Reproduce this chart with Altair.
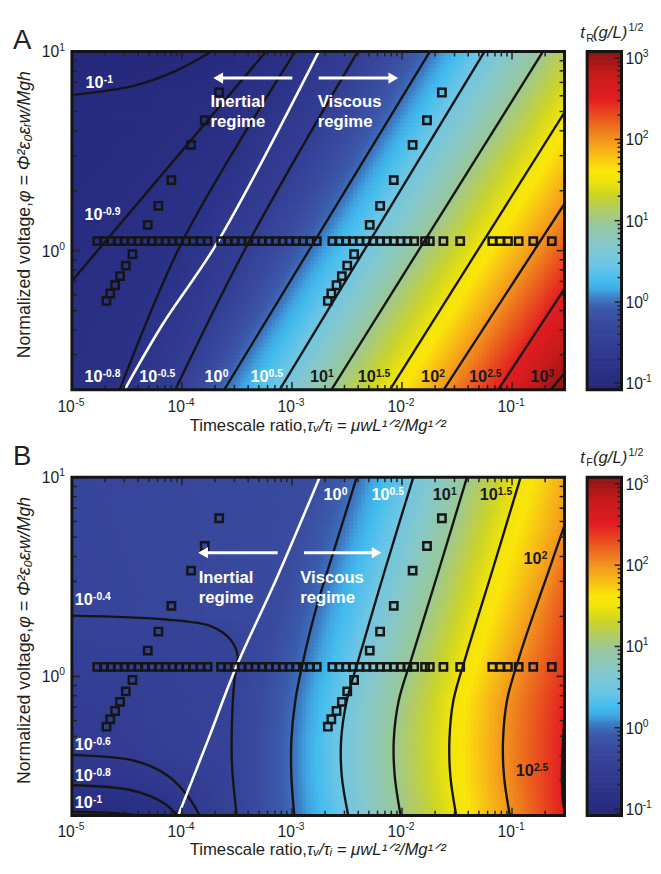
import numpy as np
import pandas as pd
import altair as alt

alt.data_transformers.disable_max_rows()

FONT = "Liberation Sans"
TXT = "#231f20"

# ---------------- axes / domains ----------------
X_DOMAIN = [1e-5, 0.3]
Y_DOMAIN = [0.2, 10.0]
X_MAJOR = [1e-5, 1e-4, 1e-3, 1e-2, 1e-1]
X_MAJOR_EXP = ["-5", "-4", "-3", "-2", "-1"]
X_MINOR = [m * 10.0 ** d for d in range(-5, 0) for m in range(2, 10) if m * 10.0 ** d <= 0.3]
Y_MAJOR = [1.0, 10.0]
Y_MAJOR_EXP = ["0", "1"]
Y_MINOR = [0.3, 0.4, 0.5, 0.6, 0.7, 0.8, 0.9, 2, 3, 4, 5, 6, 7, 8, 9]
CB_LOG_DOMAIN = [-1.08, 3.08]
CB_MAJOR = [0.1, 1, 10, 100, 1000]
CB_MAJOR_EXP = ["-1", "0", "1", "2", "3"]
CB_MINOR = [0.09] + [m * 10.0 ** d for d in range(-1, 3) for m in range(2, 10)]

# ---------------- colour map (log10 value -> colour) ----------------
CMAP_V = [-1.08, -0.8, -0.5, -0.25, -0.08, 0.05, 0.15, 0.25, 0.45, 0.7, 0.95,
          1.15, 1.3, 1.5, 1.62, 1.8, 2.0, 2.25, 2.5, 2.8, 3.08]
CMAP_C = ["#26287a", "#2c3388", "#343f94", "#3a4b9f", "#3c5aab", "#3e7cc4", "#40a6e2",
          "#43bcee", "#6cc6e6", "#86c8cc", "#97c8a0", "#b4cd62", "#cad42a", "#f2e40a",
          "#fbe60a", "#f8c016", "#f3951f", "#ea5a1f", "#e31e22", "#c81b1c", "#8c1515"]

# ---------------- panel A : contour lines (level, x list, y list) ----------------
A_CONTOURS = [
    (-1.0, [1.0e-5, 3.62e-5, 8.70e-5, 1.85e-4], [6.05, 6.72, 7.97, 10.0]),
    (-0.9, [1.0e-5, 5.81e-4], [0.704, 10.0]),
    (-0.8, [2.72e-5, 1.004e-4, 1.07e-3], [0.2, 1.107, 10.0]),
    (-0.5, [8.70e-5, 4.02e-4, 3.96e-3], [0.2, 1.095, 10.0]),
    (0.0, [2.42e-4, 1.79e-2], [0.2, 10.0]),
    (0.5, [7.73e-4, 5.62e-2], [0.2, 10.0]),
    (1.0, [2.28e-3, 0.191], [0.2, 10.0]),
    (1.5, [7.76e-3, 0.3], [0.2, 4.95]),
    (2.0, [2.39e-2, 0.3], [0.2, 1.72]),
    (2.5, [7.48e-2, 0.3], [0.2, 0.643]),
    (3.0, [0.2253, 0.3], [0.2, 0.242]),
]
A_WHITE_X = [3.01e-5, 6.68e-5, 2.09e-4, 1.75e-3]
A_WHITE_Y = [0.2, 0.427, 1.095, 10.0]
A_GUIDES = []
A_LEFT_Y = [0.2, 0.704, 6.05, 10.0]
A_LEFT_V = [-0.86, -0.9, -1.0, -1.06]
A_RIGHT_Y = [0.2, 0.242, 0.643, 1.72, 4.95, 10.0]
A_RIGHT_V = [3.06, 3.0, 2.5, 2.0, 1.5, 1.2]

# ---------------- panel B ----------------
B_Y7 = [10.0, 3.523, 1.269, 0.753, 0.4784, 0.3145, 0.2]
B_CONTOURS = [
    (-1.0, [1.0e-5, 2.08e-5, 4.09e-5], [0.209, 0.2066, 0.2]),
    (-0.8, [1.0e-5, 3.47e-5, 6.81e-5, 9.07e-5], [0.284, 0.268, 0.2315, 0.2]),
    (-0.6, [1.0e-5, 3.69e-5, 7.39e-5, 1.11e-4, 1.45e-4], [0.4036, 0.377, 0.318, 0.2535, 0.2]),
    (-0.4, [1.0e-5, 7.10e-5, 1.85e-4, 2.79e-4, 3.21e-4, 3.02e-4, 2.90e-4, 2.84e-4, 3.15e-4],
     [2.02, 1.93, 1.783, 1.521, 1.269, 0.989, 0.745, 0.377, 0.2]),
    (0.0, [3.879e-3, 2.527e-3, 1.645e-3, 1.237e-3, 1.072e-3, 9.878e-4, 9.878e-4, 1.050e-3],
     [10.0, 4.677, 2.163, 1.133, 0.753, 0.4784, 0.3145, 0.2]),
    (0.5, [1.267e-2, 7.11e-3, 4.12e-3, 3.143e-3, 2.797e-3, 2.838e-3, 3.247e-3], B_Y7),
    (1.0, [3.894e-2, 2.199e-2, 1.242e-2, 9.33e-3, 8.42e-3, 8.60e-3, 9.72e-3], B_Y7),
    (1.5, [0.1197, 6.757e-2, 3.816e-2, 2.926e-2, 2.697e-2, 2.753e-2, 3.111e-2], B_Y7),
    (2.0, [0.3, 0.2208, 0.1172, 8.99e-2, 8.29e-2, 8.46e-2, 9.56e-2],
     [5.74, 3.523, 1.269, 0.753, 0.4784, 0.3145, 0.2]),
    (2.5, [0.3, 0.29, 0.284, 0.29, 0.3], [0.643, 0.45, 0.33, 0.24, 0.209]),
]
B_WHITE_X = [9.25e-5, 1.71e-4, 3.15e-4, 7.13e-4, 1.786e-3]
B_WHITE_Y = [0.2, 0.473, 1.133, 3.04, 10.0]
# shading guide read from the colour (where the blue starts to brighten), not drawn
B_GUIDES = [(-0.25, [1.456e-3, 1.008e-3, 7.42e-4, 5.69e-4, 5.04e-4, 4.64e-4, 4.64e-4, 4.93e-4],
             [10.0, 4.677, 2.163, 1.133, 0.753, 0.4784, 0.3145, 0.2])]
B_LEFT_Y = [0.2, 0.209, 0.284, 0.4036, 2.02, 10.0]
B_LEFT_V = [-1.02, -1.0, -0.8, -0.6, -0.4, -0.36]
B_RIGHT_Y = [0.2, 0.209, 0.33, 0.643, 1.05, 2.59, 5.74, 10.0]
B_RIGHT_V = [2.49, 2.5, 2.53, 2.5, 2.42, 2.25, 2.0, 1.9]

# ---------------- experimental squares (same in both panels) ----------------
SQ_DIAG_Y = [6.23, 4.52, 3.40, 2.26, 1.680, 1.348, 0.959, 0.841, 0.745, 0.670, 0.609, 0.559]
SQ_DIAG1_X = [2.18e-4, 1.61e-4, 1.21e-4, 8.02e-5, 6.11e-5, 4.89e-5, 3.55e-5, 3.09e-5,
              2.74e-5, 2.47e-5, 2.23e-5, 2.06e-5]
SQ_DIAG2_X = [0.02305, 0.01687, 0.01249, 8.42e-3, 6.33e-3, 5.09e-3, 3.67e-3, 3.18e-3,
              2.84e-3, 2.54e-3, 2.28e-3, 2.12e-3]
SQ_ROW_Y = 1.116
SQ_ROW_X = [1.70e-5, 1.96e-5, 2.26e-5, 2.61e-5, 3.01e-5, 3.47e-5, 4.01e-5, 4.62e-5, 5.33e-5,
            6.15e-5, 7.10e-5, 8.19e-5, 9.45e-5, 1.09e-4, 1.26e-4, 1.48e-4, 1.71e-4,
            2.27e-4, 2.62e-4, 3.02e-4, 3.49e-4, 4.02e-4, 4.64e-4, 5.36e-4, 6.18e-4, 7.13e-4,
            8.22e-4, 9.48e-4, 1.09e-3, 1.26e-3, 1.46e-3, 1.68e-3,
            2.33e-3, 2.69e-3, 3.10e-3, 3.57e-3, 4.12e-3, 4.75e-3, 5.49e-3, 6.33e-3, 7.30e-3,
            8.42e-3, 9.72e-3, 1.12e-2, 1.29e-2, 1.62e-2, 1.79e-2, 2.38e-2, 3.38e-2,
            6.62e-2, 7.79e-2, 9.18e-2, 0.115, 0.156, 0.230]

# ---------------- contour labels ----------------
A_LBL_EXP = ["-1", "-0.9", "-0.8", "-0.5", "0", "0.5", "1", "1.5", "2", "2.5", "3"]
A_LBL_X = [1.33e-5, 1.30e-5, 1.30e-5, 4.09e-5, 1.605e-4, 4.19e-4, 1.456e-3, 3.96e-3, 1.492e-2, 4.06e-2, 0.1468]
A_LBL_Y = [6.57, 1.421, 0.2187, 0.2187, 0.2187, 0.2187, 0.2187, 0.2187, 0.2187, 0.2187, 0.2187]
A_LBL_DARK = [False, False, False, False, False, False, True, True, True, True, True]
B_LBL_EXP = ["-0.4", "-0.6", "-0.8", "-1", "0", "0.5", "1", "1.5", "2", "2.5"]
B_LBL_X = [1.063e-5, 1.063e-5, 1.063e-5, 1.063e-5, 1.937e-3, 5.27e-3, 1.905e-2, 5.08e-2, 0.1272, 0.108]
B_LBL_Y = [2.288, 0.427, 0.297, 0.2187, 7.70, 7.70, 7.70, 7.70, 3.686, 0.3145]
B_LBL_DARK = [False, False, False, False, False, False, True, True, True, True]

# ---------------- regime annotations ----------------
A_ARROW_Y = 7.36
A_ARROW_L = [1.008e-3, 2.137e-4]
A_ARROW_R = [1.749e-3, 8.34e-3]
A_TXT_X = [1.815e-4, 1.815e-4, 1.714e-3, 1.714e-3]
A_TXT_Y = [5.24, 4.18, 5.24, 4.18]
B_ARROW_Y = 4.18
B_ARROW_L = [7.42e-4, 1.557e-4]
B_ARROW_R = [1.288e-3, 5.89e-3]
B_TXT_X = [1.42e-4, 1.42e-4, 1.187e-3, 1.187e-3]
B_TXT_Y = [2.94, 2.342, 2.94, 2.342]
REGIME_TXT = ["Inertial", "regime", "Viscous", "regime"]

W, H = 501, 344
CBW = 35

XS = alt.Scale(type="log", domain=X_DOMAIN, nice=False)
YS = alt.Scale(type="log", domain=Y_DOMAIN, nice=False)
CMAP = alt.Scale(domain=CMAP_V, range=CMAP_C, clamp=True, interpolate="rgb")


def field_frame(contours, guides, left_y, left_v, right_y, right_v, nx=126, ny=86):
    lx0, lx1 = np.log10(X_DOMAIN)
    ly0, ly1 = np.log10(Y_DOMAIN)
    ex = np.linspace(lx0, lx1, nx + 1)
    ey = np.linspace(ly0, ly1, ny + 1)
    dx, dy = ex[1] - ex[0], ey[1] - ey[0]
    cx = (ex[:-1] + ex[1:]) / 2
    cy = (ey[:-1] + ey[1:]) / 2
    lines = [(lev, np.log10(a), np.log10(b)) for lev, a, b in list(contours) + list(guides)]
    lly, lry = np.log10(left_y), np.log10(right_y)
    rec = {"x": [], "x2": [], "y": [], "y2": [], "v": []}
    for j, yc in enumerate(cy):
        pts = []
        for lev, lxs, lys in lines:
            for k in range(len(lxs) - 1):
                ya, yb = lys[k], lys[k + 1]
                if ya == yb:
                    continue
                if min(ya, yb) <= yc <= max(ya, yb):
                    t = (yc - ya) / (yb - ya)
                    pts.append((lxs[k] + t * (lxs[k + 1] - lxs[k]), lev))
        pts.append((lx0, float(np.interp(yc, lly, left_v))))
        pts.append((lx1, float(np.interp(yc, lry, right_v))))
        pts.sort()
        vals = np.interp(cx, [p[0] for p in pts], [p[1] for p in pts])
        for i in range(nx):
            rec["x"].append(float("%.5g" % 10 ** ex[i]))
            rec["x2"].append(float("%.5g" % 10 ** (ex[i + 1] + 0.25 * dx)))
            rec["y"].append(float("%.5g" % 10 ** ey[j]))
            rec["y2"].append(float("%.5g" % 10 ** (ey[j + 1] + 0.25 * dy)))
            rec["v"].append(round(float(vals[i]), 3))
    return pd.DataFrame(rec)


def ptext(text, x, y, size, style="normal", weight="normal", align="left", angle=0, color=TXT):
    kw = dict(align=align, baseline="alphabetic", font=FONT, fontSize=size,
              fontStyle=style, fontWeight=weight, color=color)
    if angle:
        kw["angle"] = angle
    return alt.Chart(pd.DataFrame({"t": [text]})).mark_text(**kw).encode(
        x=alt.value(x), y=alt.value(y), text="t:N")


def border(w, h):
    return alt.Chart(pd.DataFrame({"a": [0]})).mark_rect(
        filled=False, stroke="#151515", strokeWidth=3, fillOpacity=0).encode(
        x=alt.value(0), x2=alt.value(w), y=alt.value(0), y2=alt.value(h))


def anchor(x0):
    # white-on-white hairline fixing the top / left extent of a view
    return alt.Chart(pd.DataFrame({"a": [0]})).mark_rule(color="white", strokeWidth=1).encode(
        x=alt.value(x0), x2=alt.value(x0 + 1), y=alt.value(-36), y2=alt.value(-36))


def tick_layers():
    out = []
    for vals, L in ((X_MAJOR, 8), (X_MINOR, 5)):
        base = alt.Chart(pd.DataFrame({"v": vals})).mark_rule(color=TXT, strokeWidth=1.5)
        out.append(base.encode(x=alt.X("v:Q", scale=XS, axis=None), y=alt.value(H), y2=alt.value(H - L)))
        out.append(base.encode(x=alt.X("v:Q", scale=XS, axis=None), y=alt.value(0), y2=alt.value(L)))
    for vals, L in ((Y_MAJOR, 8), (Y_MINOR, 5)):
        base = alt.Chart(pd.DataFrame({"v": vals})).mark_rule(color=TXT, strokeWidth=1.5)
        out.append(base.encode(y=alt.Y("v:Q", scale=YS, axis=None), x=alt.value(0), x2=alt.value(L)))
        out.append(base.encode(y=alt.Y("v:Q", scale=YS, axis=None), x=alt.value(W), x2=alt.value(W - L)))
    return out


def axis_labels(label_dy):
    xd = pd.DataFrame({"v": X_MAJOR, "e": X_MAJOR_EXP, "b": ["10"] * len(X_MAJOR)})
    xb = alt.Chart(xd).encode(x=alt.X("v:Q", scale=XS, axis=None), y=alt.value(H + label_dy))
    yd = pd.DataFrame({"v": Y_MAJOR, "e": Y_MAJOR_EXP, "b": ["10"] * len(Y_MAJOR)})
    yb = alt.Chart(yd).encode(y=alt.Y("v:Q", scale=YS, axis=None))
    common = dict(baseline="alphabetic", font=FONT, color=TXT)
    return [
        xb.mark_text(align="right", fontSize=16, dx=3, **common).encode(text="b:N"),
        xb.mark_text(align="left", fontSize=10.5, dx=3.5, dy=-7, **common).encode(text="e:N"),
        yb.mark_text(align="right", fontSize=16, dy=6, **common).encode(x=alt.value(-13), text="b:N"),
        yb.mark_text(align="left", fontSize=10.5, dy=-1, **common).encode(x=alt.value(-13), text="e:N"),
    ]


def panel(contours, guides, white_x, white_y, left_y, left_v, right_y, right_v,
          lbl_exp, lbl_x, lbl_y, lbl_dark, arrow_y, arrow_l, arrow_r, txt_x, txt_y,
          letter, letter_y, label_dy, xtitle_dy):
    heat_df = field_frame(contours, guides, left_y, left_v, right_y, right_v)
    heat = alt.Chart(heat_df).mark_rect(clip=True, strokeWidth=0.6).encode(
        x=alt.X("x:Q", scale=XS, axis=None), x2="x2:Q",
        y=alt.Y("y:Q", scale=YS, axis=None), y2="y2:Q",
        color=alt.Color("v:Q", scale=CMAP, legend=None),
        stroke=alt.Stroke("v:Q", scale=CMAP, legend=None))

    crow = {"cid": [], "idx": [], "x": [], "y": []}
    for c, (lev, xs_, ys_) in enumerate(contours):
        for k, (a, b) in enumerate(zip(xs_, ys_)):
            crow["cid"].append(c)
            crow["idx"].append(k)
            crow["x"].append(a)
            crow["y"].append(b)
    cont = alt.Chart(pd.DataFrame(crow)).mark_line(
        clip=True, color="#151515", strokeWidth=2.4, interpolate="catmull-rom").encode(
        x=alt.X("x:Q", scale=XS, axis=None), y=alt.Y("y:Q", scale=YS, axis=None),
        detail="cid:N", order="idx:Q")
    white = alt.Chart(pd.DataFrame({"x": white_x, "y": white_y, "i": list(range(len(white_x)))})).mark_line(
        clip=True, color="white", strokeWidth=2.6, interpolate="catmull-rom").encode(
        x=alt.X("x:Q", scale=XS, axis=None), y=alt.Y("y:Q", scale=YS, axis=None), order="i:Q")

    sq_x = SQ_DIAG1_X + SQ_DIAG2_X + SQ_ROW_X
    sq_y = SQ_DIAG_Y + SQ_DIAG_Y + [SQ_ROW_Y] * len(SQ_ROW_X)
    squares = alt.Chart(pd.DataFrame({"x": sq_x, "y": sq_y})).mark_point(
        shape="square", filled=False, size=56, strokeWidth=2.5, color="#151515", opacity=1).encode(
        x=alt.X("x:Q", scale=XS, axis=None), y=alt.Y("y:Q", scale=YS, axis=None))

    arr_df = pd.DataFrame({"a": [0, 0, 1, 1], "x": arrow_l + arrow_r, "y": [arrow_y] * 4, "i": [0, 1, 0, 1]})
    arrows = alt.Chart(arr_df).mark_line(color="white", strokeWidth=3).encode(
        x=alt.X("x:Q", scale=XS, axis=None), y=alt.Y("y:Q", scale=YS, axis=None), detail="a:N", order="i:Q")
    heads = alt.Chart(pd.DataFrame({"x": [arrow_l[1], arrow_r[1]], "y": [arrow_y] * 2,
                                    "s": ["triangle-left", "triangle-right"]})).mark_point(
        filled=True, size=130, color="white", opacity=1, strokeWidth=0).encode(
        x=alt.X("x:Q", scale=XS, axis=None), y=alt.Y("y:Q", scale=YS, axis=None),
        shape=alt.Shape("s:N", scale=None))
    regime = alt.Chart(pd.DataFrame({"t": REGIME_TXT, "x": txt_x, "y": txt_y})).mark_text(
        align="left", baseline="alphabetic", font=FONT, fontSize=17, fontWeight="bold", color="white").encode(
        x=alt.X("x:Q", scale=XS, axis=None), y=alt.Y("y:Q", scale=YS, axis=None), text="t:N")

    ldf = pd.DataFrame({"e": lbl_exp, "b": ["10"] * len(lbl_exp), "x": lbl_x, "y": lbl_y,
                        "c": ["#1a1a1a" if d else "#ffffff" for d in lbl_dark]})
    lbase = alt.Chart(ldf).encode(x=alt.X("x:Q", scale=XS, axis=None), y=alt.Y("y:Q", scale=YS, axis=None),
                                  color=alt.Color("c:N", scale=None))
    lb1 = lbase.mark_text(align="left", baseline="alphabetic", font=FONT, fontSize=16.5,
                          fontWeight="bold").encode(text="b:N")
    lb2 = lbase.mark_text(align="left", baseline="alphabetic", font=FONT, fontSize=10.5, fontWeight="bold",
                          dx=18.5, dy=-5).encode(text="e:N")

    titles = [
        ptext(letter, -60, letter_y, 28),
        ptext("Timescale ratio,\u00a0", 239, H + xtitle_dy, 17, align="right"),
        ptext("τᵥ/τᵢ = μwL¹ᐟ²/Mg¹ᐟ²", 239, H + xtitle_dy, 17, style="italic"),
        ptext("Normalized voltage,\u00a0", -43, 153, 18, align="right", angle=270),
        ptext("φ = Φ²ε₀εᵣw/Mgh", -43, 153, 18, style="italic", angle=270),
    ]
    layers = ([anchor(-64), heat, cont, white, squares, arrows, heads, regime, lb1, lb2] + tick_layers()
              + [border(W, H)] + axis_labels(label_dy) + titles)
    return alt.layer(*layers).properties(width=W, height=H)


def colorbar(sub, title_y):
    e = np.linspace(CB_LOG_DOMAIN[0], CB_LOG_DOMAIN[1], 201)
    de = e[1] - e[0]
    cdf = pd.DataFrame({"y": 10 ** e[:-1], "y2": 10 ** (e[1:] + 0.3 * de), "v": (e[:-1] + e[1:]) / 2})
    cbs = alt.Scale(type="log", domain=[10 ** CB_LOG_DOMAIN[0], 10 ** CB_LOG_DOMAIN[1]], nice=False)
    bar = alt.Chart(cdf).mark_rect(clip=True, strokeWidth=0.6).encode(
        x=alt.value(0), x2=alt.value(CBW),
        y=alt.Y("y:Q", scale=cbs, axis=None), y2="y2:Q",
        color=alt.Color("v:Q", scale=CMAP, legend=None),
        stroke=alt.Stroke("v:Q", scale=CMAP, legend=None))
    tk = []
    for vals, L in ((CB_MAJOR, 7), (CB_MINOR, 4)):
        tk.append(alt.Chart(pd.DataFrame({"v": vals})).mark_rule(color=TXT, strokeWidth=1.5).encode(
            y=alt.Y("v:Q", scale=cbs, axis=None), x=alt.value(CBW), x2=alt.value(CBW - L)))
    ld = pd.DataFrame({"v": CB_MAJOR, "e": CB_MAJOR_EXP, "b": ["10"] * len(CB_MAJOR)})
    lb = alt.Chart(ld).encode(y=alt.Y("v:Q", scale=cbs, axis=None))
    common = dict(baseline="alphabetic", font=FONT, color=TXT, align="left")
    labels = [
        lb.mark_text(fontSize=16, dy=6, **common).encode(x=alt.value(CBW + 4), text="b:N"),
        lb.mark_text(fontSize=10.5, dy=-1, **common).encode(x=alt.value(CBW + 21.5), text="e:N"),
    ]
    ttl = [
        ptext("t", -7, title_y, 17, style="italic"),
        ptext(sub, -1, title_y + 4, 11),
        ptext("(g/L)", 6, title_y, 17, style="italic"),
        ptext("1/2", 42, title_y - 7, 11),
    ]
    return alt.layer(anchor(0), bar, *tk, border(CBW, H), *labels, *ttl).properties(width=CBW, height=H)


mainA = panel(A_CONTOURS, A_GUIDES, A_WHITE_X, A_WHITE_Y, A_LEFT_Y, A_LEFT_V, A_RIGHT_Y, A_RIGHT_V,
              A_LBL_EXP, A_LBL_X, A_LBL_Y, A_LBL_DARK, A_ARROW_Y, A_ARROW_L, A_ARROW_R, A_TXT_X, A_TXT_Y,
              "A", -3, 23, 41.5)
mainB = panel(B_CONTOURS, B_GUIDES, B_WHITE_X, B_WHITE_Y, B_LEFT_Y, B_LEFT_V, B_RIGHT_Y, B_RIGHT_V,
              B_LBL_EXP, B_LBL_X, B_LBL_Y, B_LBL_DARK, B_ARROW_Y, B_ARROW_L, B_ARROW_R, B_TXT_X, B_TXT_Y,
              "B", -13, 22, 40)

rowA = alt.hconcat(mainA, colorbar("R", -14), spacing=13).resolve_scale(
    x="independent", y="independent", color="independent", stroke="independent")
rowB = alt.hconcat(mainB, colorbar("F", -15), spacing=13).resolve_scale(
    x="independent", y="independent", color="independent", stroke="independent")

chart = alt.vconcat(rowA, rowB, spacing=7).resolve_scale(
    x="independent", y="independent", color="independent", stroke="independent"
).properties(
    padding={"left": 0, "top": 0, "right": 0, "bottom": 0}
).configure_view(strokeWidth=0).configure(background="white")

chart.save("out.html", embed_options={"renderer": "svg", "actions": False})
